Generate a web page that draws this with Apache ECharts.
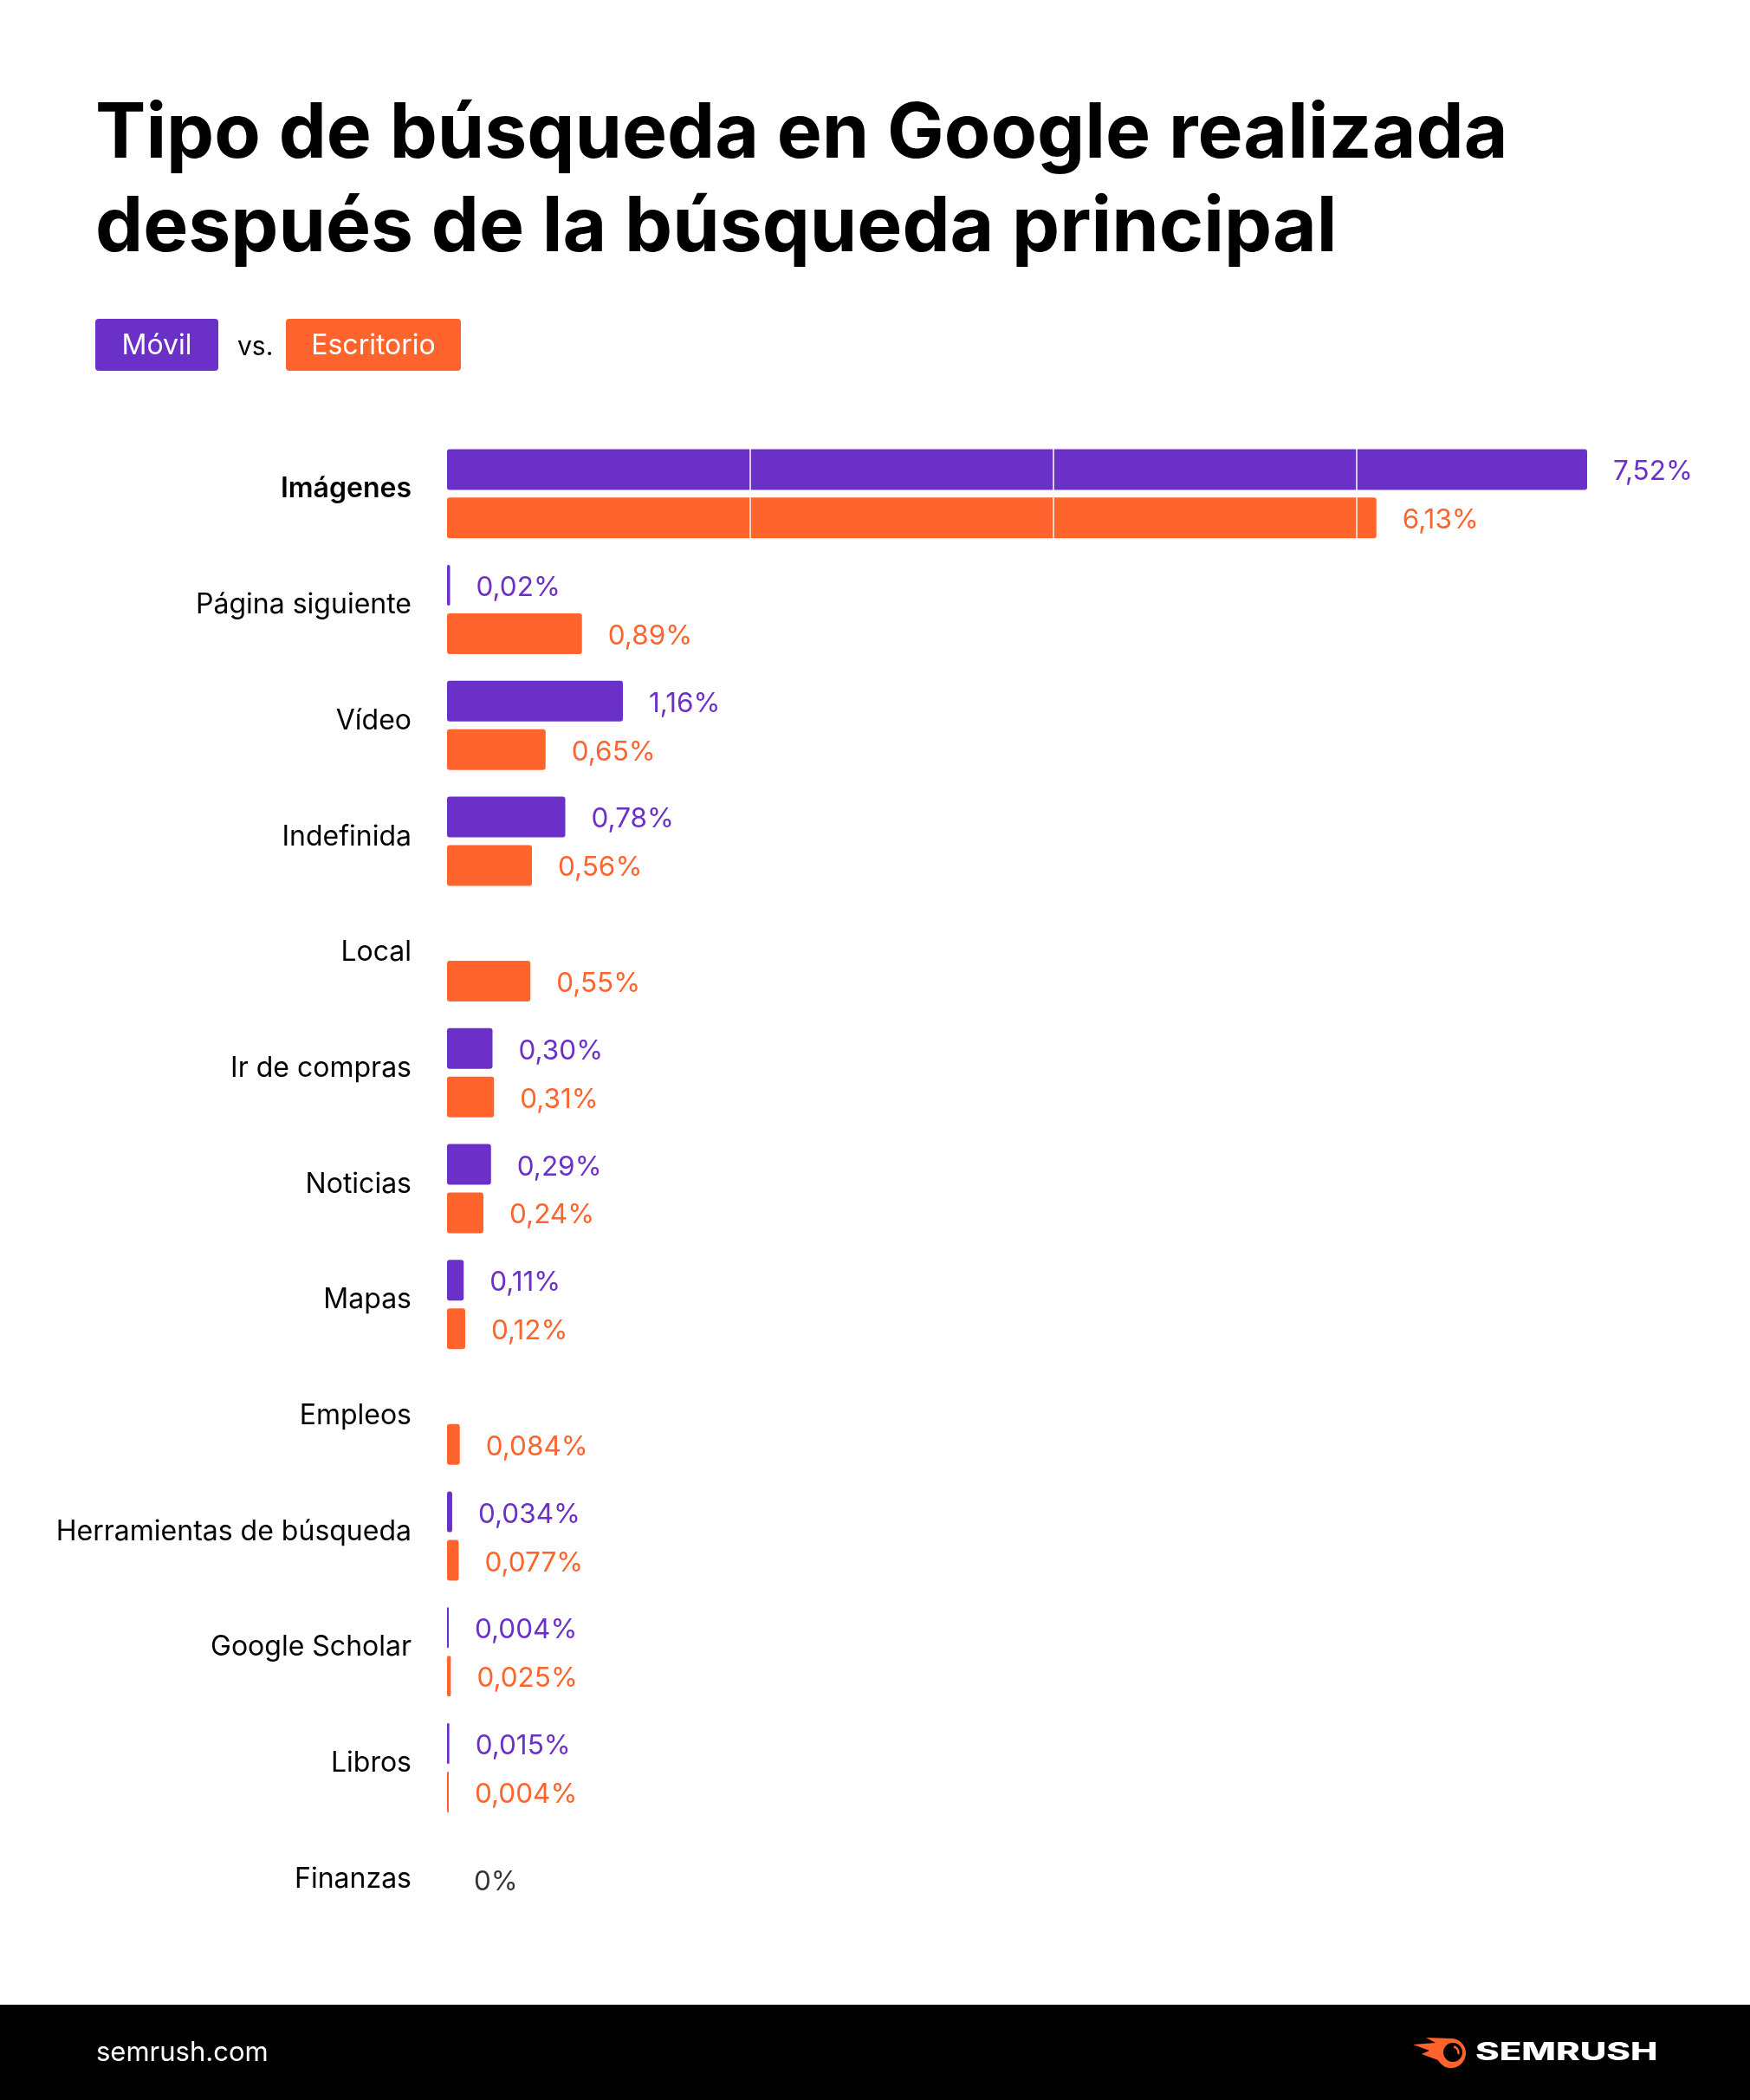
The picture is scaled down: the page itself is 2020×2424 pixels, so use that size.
<!DOCTYPE html>
<html><head><meta charset="utf-8">
<script src="https://cdn.jsdelivr.net/npm/echarts@6/dist/echarts.min.js"></script>
<style>html,body{margin:0;padding:0;background:#fff}#c{width:2020px;height:2424px}</style>
</head><body><div id="c"></div>
<script>
// ---- data ----
const categories = ['Imágenes','Página siguiente','Vídeo','Indefinida','Local','Ir de compras','Noticias','Mapas','Empleos','Herramientas de búsqueda','Google Scholar','Libros','Finanzas'];
const movil      = [7.52, 0.02, 1.16, 0.78, null, 0.30, 0.29, 0.11, null, 0.034, 0.004, 0.015, null];
const escritorio = [6.13, 0.89, 0.65, 0.56, 0.55, 0.31, 0.24, 0.12, 0.084, 0.077, 0.025, 0.004, null];
const finanzas   = [null, null, null, null, null, null, null, null, null, null, null, null, 0];
const gridTicks  = [2, 4, 6];
const seriesNames = ['Móvil', 'Escritorio'];

const PURPLE = '#6A30C8', ORANGE = '#FF642D';
const FONT = 'Inter, "Noto Sans", sans-serif';

function fmt(v){
  if (v === 0) return '0%';
  let s = v.toFixed(3);
  while (s.endsWith('0') && s.split('.')[1].length > 2) s = s.slice(0, -1);
  return s.replace('.', ',') + '%';
}

const chart = echarts.init(document.getElementById('c'), null, {renderer:'canvas'});

function barSeries(name, data, color, withLines){
  const s = {
    name, type:'bar', data,
    barWidth: 47, barGap: '19%', barMinHeight: 2,
    itemStyle:{color, borderRadius:3},
    label:{show:true, position:'right', distance:30, offset:[0,3], color, fontSize:31.5, fontFamily:FONT,
      formatter: p => fmt(p.value)},
    emphasis:{disabled:true}
  };
  if (withLines){
    s.markLine = {
      silent:true, symbol:'none', label:{show:false},
      lineStyle:{color:'#fff', width:1.5, type:'solid'},
      data: gridTicks.map(v => ({xAxis:v}))
    };
  }
  return s;
}

const zeroData = finanzas.map((v, i) => v === null ? null : [v, categories[i]]).filter(d => d);

chart.setOption({
  backgroundColor:'#fff',
  animation:false,
  title:{
    text:'Tipo de búsqueda en Google realizada\ndespués de la búsqueda principal',
    left:105, top:97,
    textStyle:{fontSize:87.5, fontWeight:700, fontFamily:FONT, color:'#000', lineHeight:108}
  },
  grid:{left:516, width:1400, top:503, height:1738},
  xAxis:{type:'value', min:0, max:8, interval:2, show:false},
  yAxis:{
    type:'category', data:categories, inverse:true,
    axisLine:{show:false}, axisTick:{show:false},
    axisLabel:{
      margin:41, fontSize:32, fontFamily:FONT, color:'#000', padding:[0,0,10,0],
      formatter:(v,i)=> i===0 ? '{b|'+v+'}' : v,
      rich:{b:{fontSize:32, fontFamily:FONT, fontWeight:600, color:'#000'}}
    }
  },
  series:[
    barSeries(seriesNames[0], movil, PURPLE, false),
    barSeries(seriesNames[1], escritorio, ORANGE, true),
    {
      name:'cero', type:'scatter', data:zeroData, symbolSize:2,
      itemStyle:{color:'rgba(0,0,0,0)'},
      label:{show:true, position:'right', distance:30, offset:[0,-2], color:'#000', fontSize:31.5, fontFamily:FONT,
        formatter: p => fmt(p.value[0])},
      emphasis:{disabled:true}, silent:true
    }
  ],
  graphic:[
    // legend
    {type:'rect', shape:{x:110, y:368, width:142, height:60, r:4}, style:{fill:PURPLE}},
    {type:'text', x:181, y:399, style:{text:seriesNames[0], fill:'#fff', font:'400 32px '+FONT, align:'center', verticalAlign:'middle'}},
    {type:'text', x:274, y:401, style:{text:'vs.', fill:'#000', font:'400 30px '+FONT, align:'left', verticalAlign:'middle'}},
    {type:'rect', shape:{x:330, y:368, width:202, height:60, r:4}, style:{fill:ORANGE}},
    {type:'text', x:431, y:399, style:{text:seriesNames[1], fill:'#fff', font:'400 32px '+FONT, align:'center', verticalAlign:'middle'}},
    // footer
    {type:'rect', shape:{x:0, y:2314, width:2020, height:110}, style:{fill:'#000'}},
    {type:'text', x:111, y:2370, style:{text:'semrush.com', fill:'#fff', font:'400 31px '+FONT, align:'left', verticalAlign:'middle'}},
    {type:'polygon', shape:{points:[[1676,2353],[1646,2352],[1657,2358],[1631,2360],[1650,2367],[1641,2371],[1660,2378],[1668,2386],[1676,2387]]}, style:{fill:ORANGE}},
    {type:'circle', shape:{cx:1675, cy:2370, r:17}, style:{fill:ORANGE}},
    {type:'circle', shape:{cx:1677, cy:2369, r:11}, style:{fill:'#000'}},
    {type:'arc', shape:{cx:1677, cy:2369, r:6.5, startAngle:-Math.PI*0.45, endAngle:Math.PI*0.1}, style:{stroke:ORANGE, lineWidth:2.5, fill:null}},
    {type:'text', x:1703, y:2370, scaleX:1.5, style:{text:'SEMRUSH', fill:'#fff', font:'800 28px '+FONT, align:'left', verticalAlign:'middle'}}
  ]
});
</script>
</body></html>
